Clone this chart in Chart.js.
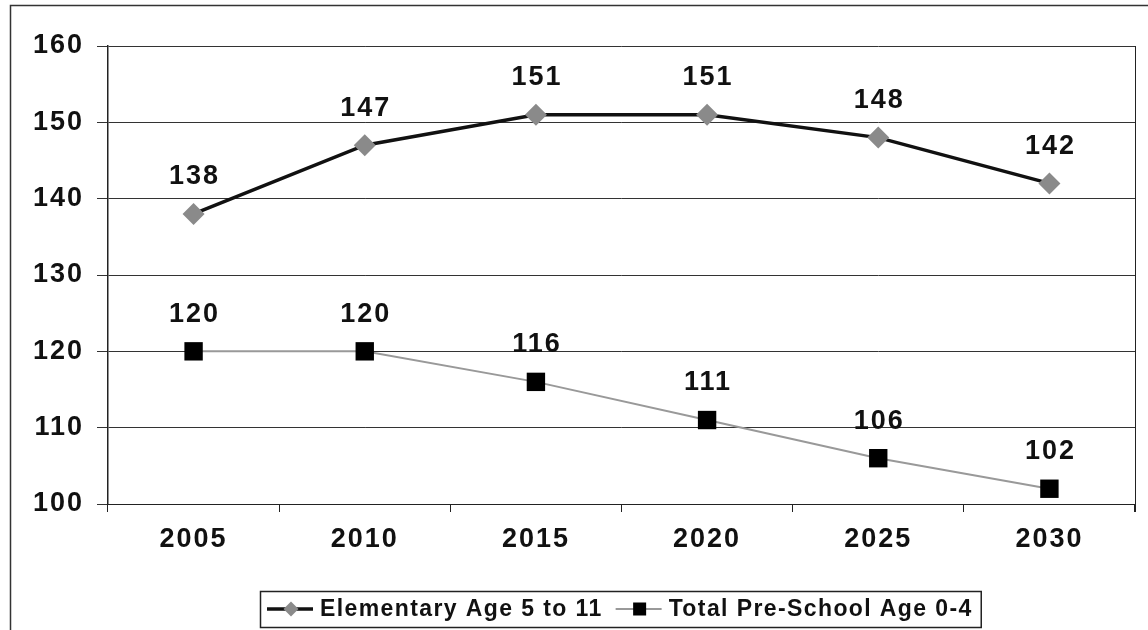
<!DOCTYPE html>
<html>
<head>
<meta charset="utf-8">
<script src="https://cdn.jsdelivr.net/npm/chart.js@4.4.1/dist/chart.umd.min.js"></script>
<style>
  html, body { margin: 0; padding: 0; background: #fff; }
  #wrap { width: 1148px; height: 630px; position: relative; }
</style>
</head>
<body>
<div id="wrap"><canvas id="chart" width="1148" height="630"></canvas></div>
<script>
const years = ['2005', '2010', '2015', '2020', '2025', '2030'];
const elementary = [138, 147, 151, 151, 148, 142];
const preschool = [120, 120, 116, 111, 106, 102];
const yTicks = [100, 110, 120, 130, 140, 150, 160];

const FONT = '"Liberation Sans", Arial, sans-serif';

// labels above each point
const valueLabels = {
  id: 'valueLabels',
  afterDatasetsDraw(chart) {
    const ctx = chart.ctx;
    ctx.save();
    ctx.letterSpacing = '2px';
    ctx.font = 'bold 27px ' + FONT;
    ctx.fillStyle = '#111';
    ctx.textAlign = 'center';
    ctx.textBaseline = 'middle';
    chart.data.datasets.forEach((ds, i) => {
      chart.getDatasetMeta(i).data.forEach((pt, j) => {
        ctx.fillText(ds.data[j], pt.x + 1, pt.y - 37);
      });
    });
    ctx.restore();
  }
};

// outer border, right edge of plot, and boxed legend
const frame = {
  id: 'frame',
  beforeDraw(chart) {
    const ctx = chart.ctx;
    ctx.letterSpacing = '2px';
    ctx.save();
    ctx.fillStyle = '#fff';
    ctx.fillRect(0, 0, chart.width, chart.height);
    ctx.strokeStyle = '#333';
    ctx.lineWidth = 1.5;
    ctx.strokeRect(10.5, 5.5, chart.width + 10, chart.height + 10);
    ctx.restore();
  },
  afterDraw(chart) {
    const ctx = chart.ctx;
    const a = chart.chartArea;
    ctx.save();
    ctx.strokeStyle = '#222';
    ctx.lineWidth = 1;
    ctx.beginPath();
    ctx.moveTo(a.right + 0.5, a.top);
    ctx.lineTo(a.right + 0.5, a.bottom + 8);
    ctx.stroke();

    // legend
    ctx.letterSpacing = '1.4px';
    ctx.font = 'bold 23px ' + FONT;
    ctx.textBaseline = 'middle';
    ctx.textAlign = 'left';
    const ds = chart.data.datasets;
    const lx = 260, ly = 591, lh = 36, cy = ly + lh / 2;
    let x = lx + 7;
    const parts = [];
    ds.forEach(d => {
      parts.push({ d, x0: x });
      x += 53 + ctx.measureText(d.label).width + 13;
    });
    const lw = x - lx - 5;
    ctx.strokeStyle = '#222';
    ctx.lineWidth = 1.5;
    ctx.strokeRect(lx + 0.5, ly + 0.5, lw, lh);
    parts.forEach(p => {
      const d = p.d;
      ctx.strokeStyle = d.borderColor;
      ctx.lineWidth = d.borderWidth;
      ctx.beginPath();
      ctx.moveTo(p.x0, cy);
      ctx.lineTo(p.x0 + 46, cy);
      ctx.stroke();
      ctx.fillStyle = d.pointBackgroundColor;
      const mx = p.x0 + 24;
      if (d.pointStyle === 'rectRot') {
        const r = 7.5;
        ctx.beginPath();
        ctx.moveTo(mx, cy - r); ctx.lineTo(mx + r, cy);
        ctx.lineTo(mx, cy + r); ctx.lineTo(mx - r, cy);
        ctx.closePath(); ctx.fill();
      } else {
        ctx.fillRect(mx - 6.5, cy - 6.5, 13, 13);
      }
      ctx.fillStyle = '#111';
      ctx.fillText(d.label, p.x0 + 53, cy + 1);
    });
    ctx.restore();
  }
};

new Chart(document.getElementById('chart').getContext('2d'), {
  type: 'line',
  data: {
    labels: years,
    datasets: [{
      label: 'Elementary Age 5 to 11',
      data: elementary,
      borderColor: '#111',
      borderWidth: 3.5,
      pointStyle: 'rectRot',
      pointRadius: 11,
      pointBackgroundColor: '#8a8a8a',
      pointBorderColor: '#8a8a8a',
      pointBorderWidth: 0,
      tension: 0
    }, {
      label: 'Total Pre-School Age 0-4',
      data: preschool,
      borderColor: '#999',
      borderWidth: 2,
      pointStyle: 'rect',
      pointRadius: 13,
      pointBackgroundColor: '#000',
      pointBorderColor: '#000',
      pointBorderWidth: 0,
      tension: 0
    }]
  },
  options: {
    responsive: false,
    animation: false,
    layout: { padding: { left: 10, top: 46, right: 4, bottom: 66 } },
    plugins: {
      legend: { display: false },
      tooltip: { enabled: false }
    },
    scales: {
      x: {
        offset: true,
        grid: {
          offset: true,
          drawOnChartArea: false,
          drawTicks: true,
          tickLength: 8,
          color: '#222'
        },
        border: { color: '#222', width: 1 },
        ticks: {
          font: { family: FONT, size: 27, weight: 'bold' },
          color: '#111',
          padding: 11,
          maxRotation: 0
        },
        afterFit(scale) { scale.height = 60; }
      },
      y: {
        min: 100,
        max: 160,
        afterBuildTicks(scale) { scale.ticks = yTicks.map(v => ({ value: v })); },
        grid: { color: '#333', tickLength: 11, lineWidth: 1 },
        border: { color: '#222', width: 1.5 },
        ticks: {
          font: { family: FONT, size: 27, weight: 'bold' },
          color: '#111',
          padding: 13
        },
        afterFit(scale) { scale.width = 98; }
      }
    }
  },
  plugins: [frame, valueLabels]
});
</script>
</body>
</html>
